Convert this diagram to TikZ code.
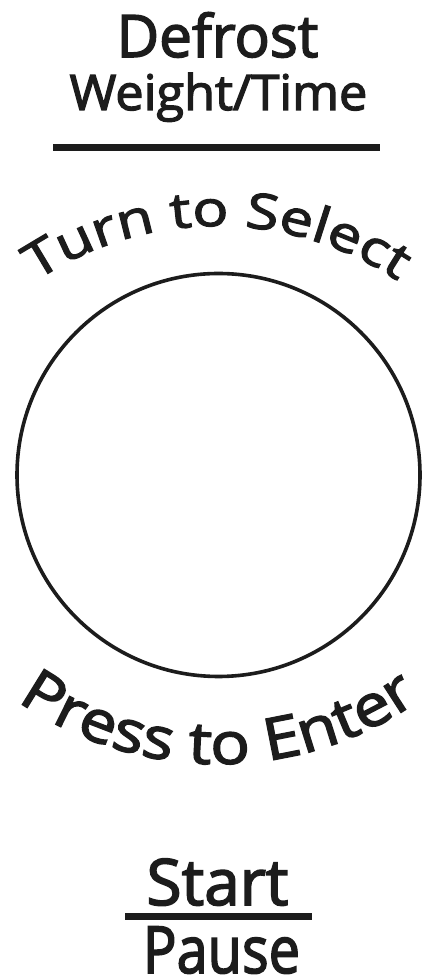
\documentclass[tikz,border=0pt]{standalone}
\usepackage{fontspec}
\setmainfont{Open Sans}
\newfontfamily\plainfont[FakeBold=2.6]{Open Sans}
\newfontfamily\topfont[FakeStretch=1.22,FakeBold=2.6]{Open Sans}
\newfontfamily\botfont[FakeStretch=1.135,FakeBold=2.6]{Open Sans}
\usetikzlibrary{decorations.text}
\definecolor{ink}{HTML}{1C1C1C}
\tikzset{
  label/.style={inner sep=0pt, anchor=base, text=ink},
  rule/.style={draw=ink, line width=7pt},
}
\begin{document}
\begin{tikzpicture}[x=1pt,y=1pt]
\useasboundingbox[fill=white] (0,0) rectangle (423,978);
% top labels
\node[label, font=\plainfont\fontsize{58.5}{60}\selectfont] (defrost) at (217.5,921) {Defrost};
\node[label, font=\plainfont\fontsize{49}{50}\selectfont] (weight) at (218.5,868) {\scalebox{1.03}[1]{Weight/Time}};
\coordinate (ra) at (53,830);
\coordinate (rb) at (380,830);
\draw[rule] (ra) -- (rb);
% dial
\node[draw=ink, circle, line width=3.6pt, minimum size=403pt, inner sep=0pt] (dial) at (218.5,503) {};
% curved texts
\path[decorate, decoration={text along path, text align=center,
  text={|\topfont\fontsize{49}{50}\selectfont\color{ink}|Turn to Select}}]
  (217,427) ++(140:325) arc[start angle=140, end angle=40, radius=325];
\path[decorate, decoration={text along path, text align=center,
  text={|\botfont\fontsize{58}{60}\selectfont\color{ink}|Press to Enter}}]
  (218,564) ++(215:350) arc[start angle=215, end angle=325, radius=350];
% bottom labels
\node[label, font=\plainfont\fontsize{64}{66}\selectfont] (start) at (217.5,73) {Start};
\coordinate (sa) at (125,61.6);
\coordinate (sb) at (312,61.6);
\draw[rule] (sa) -- (sb);
\node[label, font=\plainfont\fontsize{65}{66}\selectfont] (pause) at (221.5,5) {\scalebox{0.86}[1]{Pause}};
\end{tikzpicture}
\end{document}
